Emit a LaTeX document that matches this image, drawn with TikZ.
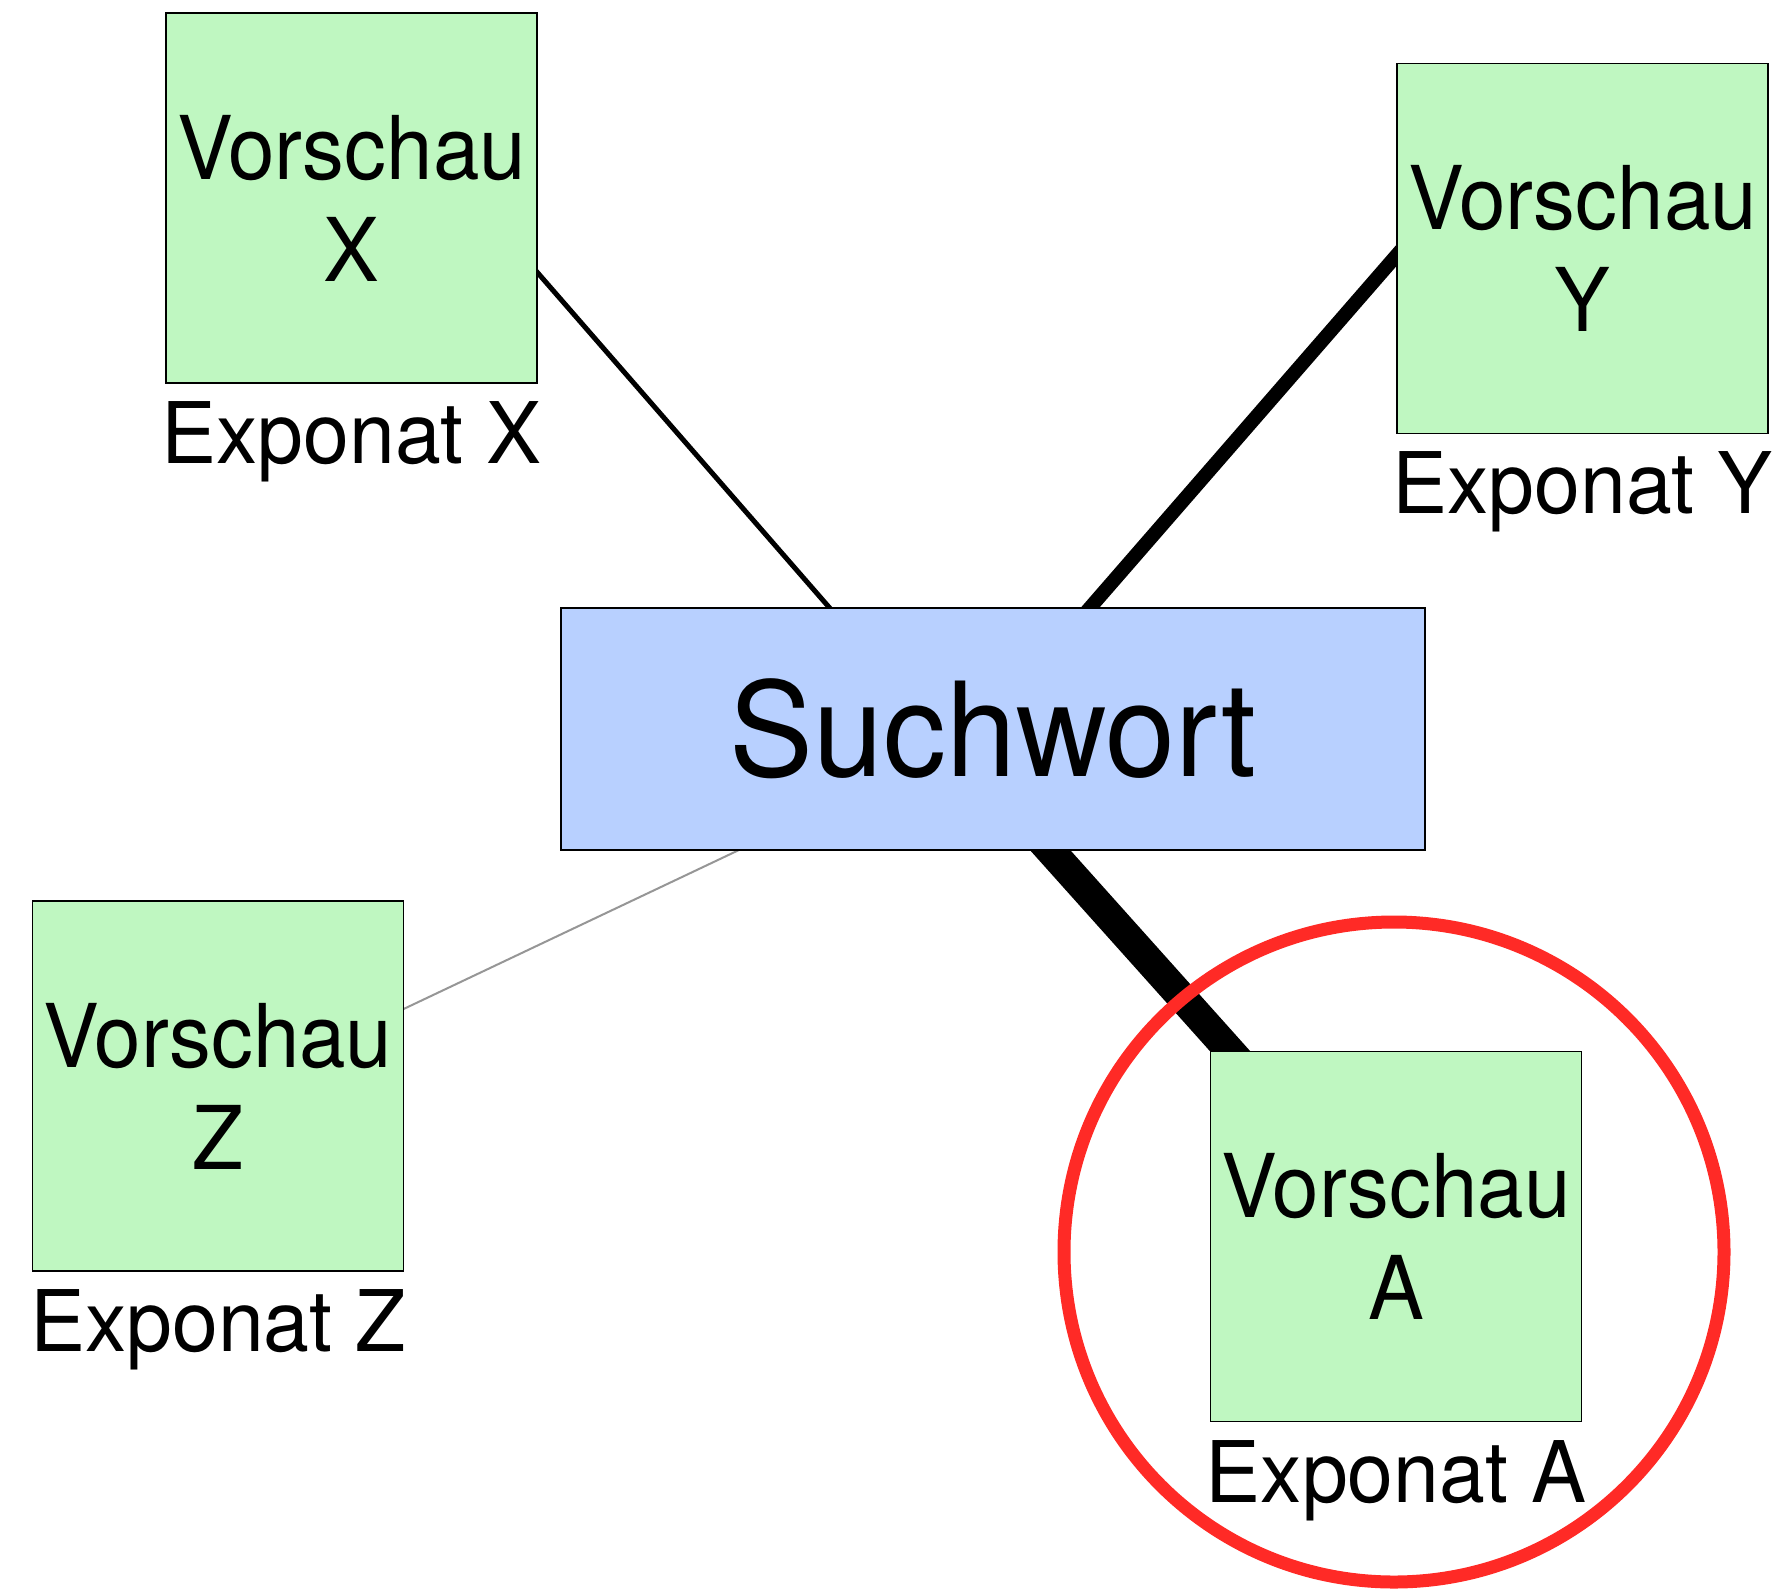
\documentclass[tikz,border=0pt]{standalone}
\usepackage{fontspec}
\setmainfont{TeX Gyre Heros}[FakeStretch=0.95]
\newfontfamily\capfont{TeX Gyre Heros}[FakeStretch=0.97]
\newfontfamily\keyfont{TeX Gyre Heros}[FakeStretch=0.96]
\usetikzlibrary{calc,backgrounds}
\definecolor{boxgreen}{RGB}{191,247,193}
\definecolor{boxblue}{RGB}{184,208,255}
\definecolor{ringred}{RGB}{255,42,38}
\definecolor{linegrey}{RGB}{150,150,150}
\begin{document}
\begin{tikzpicture}[x=1pt,y=-1pt,
  preview/.style={draw=black, line width=1.6pt, fill=boxgreen,
    minimum width=371pt, minimum height=370pt, inner sep=0pt, outer sep=0pt,
    align=center, font=\fontsize{88}{102}\selectfont},
  keyword/.style={draw=black, line width=1.6pt, fill=boxblue,
    minimum width=864pt, minimum height=242pt, inner sep=0pt, outer sep=0pt,
    font=\keyfont\fontsize{131}{150}\selectfont},
  caption/.style={anchor=base, inner sep=0pt, font=\capfont\fontsize{85}{100}\selectfont},
  link/.style={draw=black, line cap=butt},
  ring/.style={draw=ringred, line width=13pt}
]
\useasboundingbox (0,0) rectangle (1777,1588);

\node[keyword] (S) at (993,729) {Suchwort};
\node[preview] (X) at (351.5,198) {Vorschau\\X};
\node[preview] (Y) at (1582.5,248.5) {Vorschau\\Y};
\node[preview] (Z) at (218,1086) {Vorschau\\Z};
\node[preview] (A) at (1396,1236.5) {Vorschau\\A};

\node[caption] (lX) at ($(X.south)+(0,80)$) {Exponat X};
\node[caption] (lY) at ($(Y.south)+(0,80)$) {Exponat Y};
\node[caption] (lZ) at ($(Z.south)+(0,80)$) {Exponat Z};
\node[caption] (lA) at ($(A.south)+(0,81)$) {Exponat A};

\coordinate (x1) at ($(X.north east)!0.70!(X.south east)$);
\coordinate (x2) at ($(S.north west)!0.311!(S.north east)$);
\coordinate (y1) at ($(Y.north west)!0.517!(Y.south west)$);
\coordinate (y2) at ($(S.north west)!0.612!(S.north east)$);
\coordinate (z1) at ($(Z.north east)!0.292!(Z.south east)$);
\coordinate (z2) at ($(S.south west)!0.206!(S.south east)$);
\coordinate (a1) at ($(S.south west)!0.566!(S.south east)$);

\begin{scope}[on background layer]
  \draw[link, line width=5pt] ($(x2)!1.1!(x1)$) -- ($(x1)!1.1!(x2)$);
  \draw[link, line width=14pt] ($(y2)!1.1!(y1)$) -- ($(y1)!1.1!(y2)$);
  \draw[draw=linegrey, line width=2pt] ($(z2)!1.05!(z1)$) -- ($(z1)!1.05!(z2)$);
  \draw[link, line width=30pt] ($(A.center)!1.1!(a1)$) -- (A.center);
\end{scope}

\node[ring, circle, minimum size=660pt, inner sep=0pt] (R) at (1394,1252) {};
\end{tikzpicture}
\end{document}
